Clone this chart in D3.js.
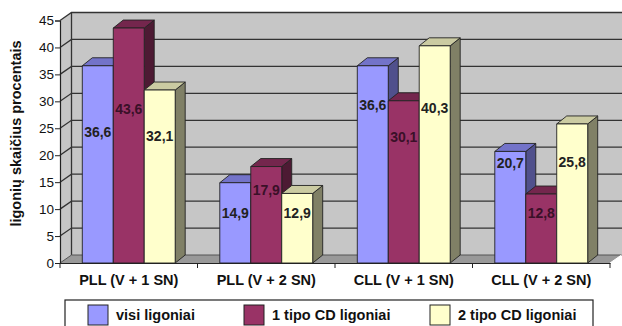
<!DOCTYPE html>
<html>
<head>
<meta charset="utf-8">
<script src="https://cdn.jsdelivr.net/npm/d3@7"></script>
<style>
  body { margin: 0; background: #fff; }
  svg text { font-family: "Liberation Sans", Arial, sans-serif; }
</style>
</head>
<body>
<main></main>
<script>
const categories = ["PLL (V + 1 SN)", "PLL (V + 2 SN)", "CLL (V + 1 SN)", "CLL (V + 2 SN)"]
const seriesNames = ["visi ligoniai", "1 tipo CD ligoniai", "2 tipo CD ligoniai"]
const visi = [36.6, 14.9, 36.6, 20.7]
const cd1 = [43.6, 17.9, 30.1, 12.8]
const cd2 = [32.1, 12.9, 40.3, 25.8]
// where the value labels sit (in axis units)
const visiLabelAt = [24.4, 9.3, 29.3, 18.5]
const cd1LabelAt = [28.5, 13.5, 23.4, 9.3]
const cd2LabelAt = [23.6, 9.3, 28.7, 18.8]
const yTicks = [0, 5, 10, 15, 20, 25, 30, 35, 40, 45]

const values = [visi, cd1, cd2]
const labelAt = [visiLabelAt, cd1LabelAt, cd2LabelAt]

const w = 622
const h = 326
const padLeft = 60
const padRight = 610
const plotBottom = 263
const plotTop = 20.5
const depthX = 11.5
const depthY = -8
const barDX = 10
const barDY = -8

const colors = [
  { front: "#9999ff", top: "#7373c9", side: "#50508c", text: "#222" },
  { front: "#993366", top: "#74264d", side: "#4d1a33", text: "#3a1028" },
  { front: "#ffffcc", top: "#cbcba2", side: "#808066", text: "#222" },
]

const svg = d3.select("main").append("svg").attr("width", w).attr("height", h)

const y = d3.scaleLinear().domain([0, 45]).range([plotBottom, plotTop])
const x0 = d3.scaleBand().domain(categories).range([padLeft, padRight])
const x1 = d3
  .scaleBand()
  .domain(seriesNames)
  .range([0, x0.bandwidth()])
  .paddingInner(0)
  .paddingOuter(0.72)

const pts = (arr) => arr.map((p) => p.join(",")).join(" ")

// back wall
svg
  .append("rect")
  .attr("x", padLeft + depthX)
  .attr("y", y(45) + depthY)
  .attr("width", w - padLeft - depthX)
  .attr("height", y(0) - y(45))
  .attr("fill", "#c6c6c6")

// side wall
svg
  .append("polygon")
  .attr(
    "points",
    pts([
      [padLeft, y(0)],
      [padLeft, y(45)],
      [padLeft + depthX, y(45) + depthY],
      [padLeft + depthX, y(0) + depthY],
    ])
  )
  .attr("fill", "#c6c6c6")

// floor
svg
  .append("polygon")
  .attr(
    "points",
    pts([
      [padLeft, y(0)],
      [padRight, y(0)],
      [padRight + depthX, y(0) + depthY],
      [w, y(0) + depthY],
      [padLeft + depthX, y(0) + depthY],
    ])
  )
  .attr("fill", "#999")

// gridlines
const grid = svg.append("g").attr("stroke", "#333").attr("stroke-width", 1.3).attr("fill", "none")
yTicks.slice(1).forEach((t) => {
  grid
    .append("polyline")
    .attr("points", pts([[padLeft, y(t)], [padLeft + depthX, y(t) + depthY], [w, y(t) + depthY]]))
})
grid
  .append("line")
  .attr("x1", padLeft + depthX)
  .attr("x2", padLeft + depthX)
  .attr("y1", y(45) + depthY)
  .attr("y2", y(0) + depthY)
grid
  .append("polyline")
  .attr("points", pts([[padLeft, y(0)], [padLeft + depthX, y(0) + depthY], [w, y(0) + depthY]]))
  .attr("stroke", "#555")
  .attr("stroke-width", 1)
svg
  .append("line")
  .attr("x1", padRight)
  .attr("y1", y(0))
  .attr("x2", padRight + depthX)
  .attr("y2", y(0) + depthY)
  .attr("stroke", "#fff")
  .attr("stroke-width", 1)

// bars, left to right so front faces hide neighbours' sides
const bars = svg.append("g").attr("stroke", "#222").attr("stroke-width", 0.9).attr("stroke-linejoin", "round")
categories.forEach((cat, ci) => {
  seriesNames.forEach((s, si) => {
    const v = values[si][ci]
    const bx = x0(cat) + x1(s)
    const bw = x1.bandwidth()
    const by = y(v)
    const c = colors[si]
    const g = bars.append("g").attr("class", "bar")
    g.append("polygon")
      .attr("points", pts([[bx + bw, by], [bx + bw + barDX, by + barDY], [bx + bw + barDX, y(0) + barDY], [bx + bw, y(0)]]))
      .attr("fill", c.side)
    g.append("polygon")
      .attr("points", pts([[bx, by], [bx + barDX, by + barDY], [bx + bw + barDX, by + barDY], [bx + bw, by]]))
      .attr("fill", c.top)
    g.append("rect")
      .attr("x", bx)
      .attr("y", by)
      .attr("width", bw)
      .attr("height", y(0) - by)
      .attr("fill", c.front)
  })
})

// value labels
categories.forEach((cat, ci) => {
  seriesNames.forEach((s, si) => {
    svg
      .append("text")
      .attr("x", x0(cat) + x1(s) + x1.bandwidth() / 2)
      .attr("y", y(labelAt[si][ci]))
      .attr("text-anchor", "middle")
      .attr("dominant-baseline", "central")
      .attr("font-size", "14px")
      .attr("font-weight", "bold")
      .attr("fill", colors[si].text)
      .text(values[si][ci].toFixed(1).replace(".", ","))
  })
})

// y axis
const yAxis = d3.axisLeft(y).tickValues(yTicks).tickSize(5).tickPadding(1)
const yg = svg.append("g").attr("transform", `translate(${padLeft},0)`).call(yAxis)
yg.select(".domain").attr("stroke", "#222").attr("stroke-width", 1.2)
yg.selectAll(".tick line").attr("stroke", "#222")
yg.selectAll("text").attr("font-size", "13.5px").attr("fill", "#111").style("font-family", '"Liberation Sans", Arial, sans-serif')

// x axis
const xAxis = d3.axisBottom(x0).tickSize(0).tickPadding(11.5)
const xg = svg.append("g").attr("transform", `translate(0,${plotBottom})`).call(xAxis)
xg.select(".domain").attr("stroke", "#222").attr("stroke-width", 1.2)
xg.selectAll("text")
  .attr("font-size", "14.5px")
  .attr("font-weight", "bold")
  .attr("fill", "#111")
  .style("font-family", '"Liberation Sans", Arial, sans-serif')
xg.selectAll(".bound")
  .data([...categories.map((c) => x0(c)), padRight])
  .enter()
  .append("line")
  .attr("x1", (d) => d)
  .attr("x2", (d) => d)
  .attr("y1", 0)
  .attr("y2", 5)
  .attr("stroke", "#222")

// y title
svg
  .append("text")
  .attr("transform", `translate(16,${(40 + 227) / 2}) rotate(-90)`)
  .attr("text-anchor", "middle")
  .attr("dominant-baseline", "central")
  .attr("font-size", "14.5px")
  .attr("font-weight", "bold")
  .attr("fill", "#111")
  .text("ligonių skaičius procentais")

// legend
const legend = svg.append("g").attr("id", "legend")
legend
  .append("rect")
  .attr("x", 65)
  .attr("y", 300)
  .attr("width", 528)
  .attr("height", 34)
  .attr("fill", "#fff")
  .attr("stroke", "#222")
  .attr("stroke-width", 1.2)
const legendX = [88, 244, 430]
seriesNames.forEach((s, si) => {
  legend
    .append("rect")
    .attr("x", legendX[si])
    .attr("y", 305)
    .attr("width", 20)
    .attr("height", 20)
    .attr("fill", colors[si].front)
    .attr("stroke", "#222")
  legend
    .append("text")
    .attr("x", legendX[si] + 28)
    .attr("y", 315)
    .attr("dominant-baseline", "central")
    .attr("font-size", "14.5px")
    .attr("font-weight", "bold")
    .attr("fill", "#111")
    .text(s)
})
</script>
</body>
</html>
